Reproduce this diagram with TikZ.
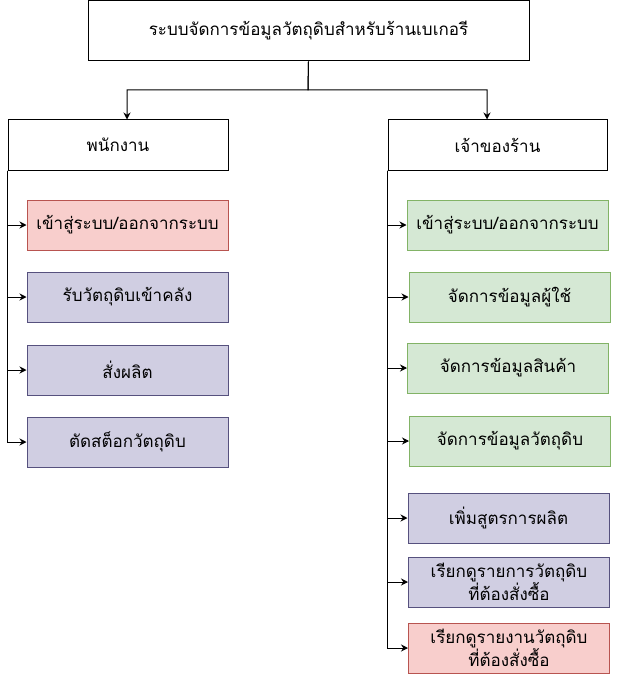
\documentclass[tikz,border=0pt]{standalone}
\usepackage{fontspec}
\newfontfamily\thaifont[Script=Thai]{Loma}
\usetikzlibrary{arrows.meta}
\definecolor{redfill}{HTML}{F8CECC}
\definecolor{redline}{HTML}{B85450}
\definecolor{purfill}{HTML}{D0CEE2}
\definecolor{purline}{HTML}{56517E}
\definecolor{grnfill}{HTML}{D5E8D4}
\definecolor{grnline}{HTML}{82B366}
\tikzset{
  box/.style={rectangle, draw=black, line width=1pt, fill=white, inner sep=2pt,
    font=\thaifont\fontsize{17}{20}\selectfont, align=center},
  redbox/.style={box, draw=redline, fill=redfill, minimum width=201pt, minimum height=50pt},
  purbox/.style={box, draw=purline, fill=purfill, minimum width=201pt, minimum height=50pt},
  grnbox/.style={box, draw=grnline, fill=grnfill, minimum width=201pt, minimum height=50pt},
  conn/.style={draw=black, line width=1pt, -{Stealth[length=7pt,width=7pt]}}
}
\begin{document}
\begin{tikzpicture}[x=1pt,y=-1pt]
\useasboundingbox (0,0) rectangle (617,674);
\node[box, minimum width=441pt, minimum height=60pt] (title) at (308.5,31) {ระบบจัดการข้อมูลวัตถุดิบสำหรับร้านเบเกอรี};
\node[box, minimum width=220pt, minimum height=50pt] (staff) at (118,145) {พนักงาน};
\node[box, minimum width=219pt, minimum height=50pt] (owner) at (497.5,145) {เจ้าของร้าน};
\coordinate (j) at (308,90);
\coordinate (jl) at (127,90);
\coordinate (jr) at (487,90);
\draw[conn] (title.south) -- (j) -- (jl) -- (jl |- staff.north);
\draw[conn] (title.south) -- (j) -- (jr) -- (jr |- owner.north);

% left column
\node[redbox] (l1) at (127.5,225) {เข้าสู่ระบบ/ออกจากระบบ};
\node[purbox] (l2) at (127.5,297) {รับวัตถุดิบเข้าคลัง};
\node[purbox] (l3) at (127.5,370) {สั่งผลิต};
\node[purbox] (l4) at (127.5,442) {ตัดสต็อกวัตถุดิบ};
\foreach \n in {l1,l2,l3,l4}
  \draw[conn] (staff.south west) |- (\n.west);

% right column
\node[grnbox] (r1) at (507.5,225) {เข้าสู่ระบบ/ออกจากระบบ};
\node[grnbox] (r2) at (509.5,297) {จัดการข้อมูลผู้ใช้};
\node[grnbox] (r3) at (508,368) {จัดการข้อมูลสินค้า};
\node[grnbox] (r4) at (510,441) {จัดการข้อมูลวัตถุดิบ};
\node[purbox] (r5) at (508.5,518) {เพิ่มสูตรการผลิต};
\node[purbox] (r6) at (509,582) {เรียกดูรายการวัตถุดิบ\\ที่ต้องสั่งซื้อ};
\node[redbox] (r7) at (509,648) {เรียกดูรายงานวัตถุดิบ\\ที่ต้องสั่งซื้อ};
\foreach \n in {r1,r2,r3,r4,r5,r6,r7}
  \draw[conn] (owner.south west) |- (\n.west);
\end{tikzpicture}
\end{document}
